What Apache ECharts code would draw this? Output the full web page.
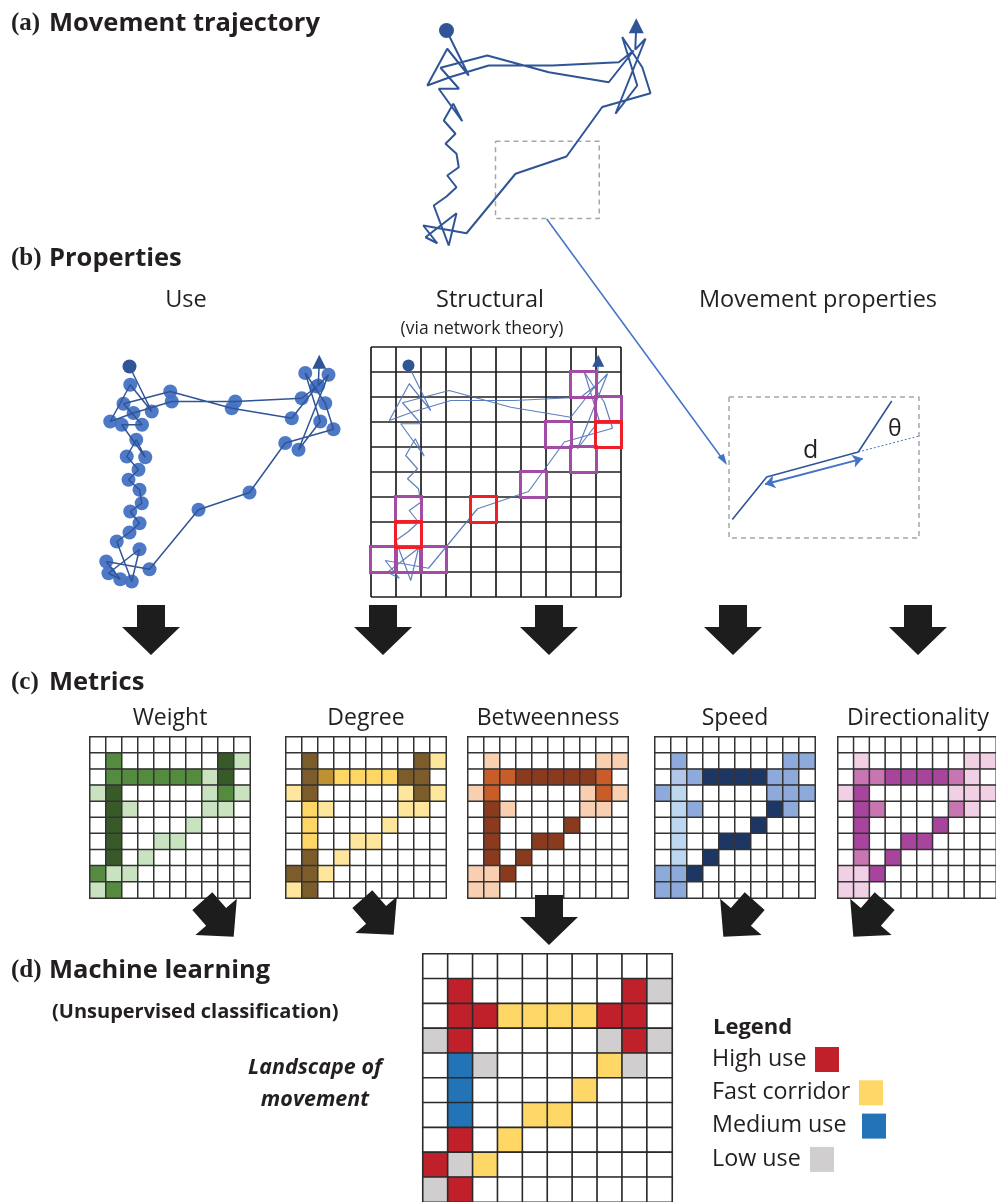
<!DOCTYPE html>
<html>
<head>
<meta charset="utf-8">
<script src="https://cdn.jsdelivr.net/npm/echarts@6/dist/echarts.min.js"></script>
<style>
  html, body { margin: 0; padding: 0; background: #fff; }
  #chart { width: 996px; height: 1202px; }
</style>
</head>
<body>
<div id="chart"></div>
<script>
// ---------- data ----------
// Animal track in landscape cell units (x to the right, y downwards), 10 x 10 cells
const track = [
  [1.50, 0.74], [2.39, 2.54], [1.53, 1.47], [0.73, 2.94], [1.66, 2.60],
  [3.19, 2.14], [5.73, 2.14], [8.39, 2.01], [8.99, 1.54], [7.99, 2.81],
  [5.59, 2.41], [3.13, 1.74], [1.26, 2.23], [2.00, 3.07], [1.19, 3.07],
  [2.13, 4.37], [1.77, 3.67], [1.39, 4.34], [1.86, 4.87], [1.46, 5.27],
  [1.90, 5.67], [1.99, 6.21], [1.53, 6.54], [1.90, 7.01], [1.50, 7.38],
  [0.99, 7.74], [1.59, 9.34], [1.90, 8.05], [0.66, 9.01], [1.13, 9.25],
  [0.57, 8.54], [2.30, 8.85], [4.26, 6.47], [6.30, 5.78], [7.73, 3.80],
  [9.66, 3.25], [9.33, 2.21], [8.53, 1.00], [9.13, 2.94], [8.26, 4.07],
  [9.46, 1.07], [9.05, 1.50], [9.09, 0.55]
];
// Section of the track that is enlarged in the movement-properties panel
const zoomBox = [[3.46, 5.17], [7.61, 5.17], [7.61, 8.26], [3.46, 8.26], [3.46, 5.17]];

// Structural panel: highlighted network nodes [col, row]
const nodesPurple = [[8, 1], [9, 2], [7, 3], [8, 4], [6, 5], [1, 6], [0, 8], [1, 8], [2, 8]];
const nodesRed = [[9, 3], [4, 6], [1, 7]];

// Movement-properties sketch (local units: 190 x 141)
const stepPath = [[3.3, 122.6], [37.7, 80], [129.3, 55], [162.7, 4]];
const headingExt = [[129.3, 55], [192.7, 38.3]];
const stepArrow = [[36, 87.3], [133.7, 61.6]];
const frameBox = [[0, 0], [190, 0], [190, 141], [0, 141], [0, 0]];

// Metric rasters: one digit per cell = class index into the palette
const metricNames = ['Weight', 'Degree', 'Betweenness', 'Speed', 'Directionality'];
const weightRows = ['0000000000','0200000031','0222222130','1300000121','0310000110',
                    '0300001000','0300110000','0301000000','2110000000','1200000000'];
const degreeRows = ['0000000000','0400000041','0432222440','1400000141','0210000110',
                    '0200001000','0200110000','0401000000','4410000000','1400000000'];
const betweenRows = ['0000000000','0100000011','0223333320','1200000121','0310000110',
                     '0300003000','0300330000','0303000000','1130000000','1100000000'];
const speedRows = ['0000000000','0300000033','0234444330','3100000333','0130000430',
                   '0100004000','0100440000','0104000000','3340000000','3300000000'];
const directRows = ['0000000000','0100000011','0223333210','1300000111','0320000210',
                    '0300003000','0300330000','0203000000','1130000000','1100000000'];
const weightColors = ['#ffffff', '#c9e3c0', '#548b3e', '#375a28'];
const degreeColors = ['#ffffff', '#fee79c', '#fed665', '#bf9130', '#7d5c2b'];
const betweenColors = ['#ffffff', '#f9cfb2', '#c85d29', '#8a3b1d'];
const speedColors = ['#ffffff', '#bdd7ee', '#b4c6e7', '#8eaadb', '#1c3764'];
const directColors = ['#ffffff', '#f1d0e5', '#c776b2', '#a7449b'];

// Unsupervised classification result
const classRows = ['0000000000','0100000014','0112222110','4100000414','0340000240',
                   '0300002000','0300220000','0102000000','1420000000','4100000000'];
const classColors = ['#ffffff', '#c0202a', '#fed766', '#2274b7', '#d0cece'];
const classNames = ['High use', 'Fast corridor', 'Medium use', 'Low use'];

// ---------- layout ----------
const SANS = "'Open Sans', 'Noto Sans', sans-serif";
const SERIF = "'Liberation Serif', 'DejaVu Serif', serif";
const INK = '#231f20';
const TRACK = '#2f5597';
const DOT = '#4472c4';

const gridTrajA = { left: 409, top: 12, width: 250, height: 250 };
const gridUse = { left: 92, top: 348, width: 250, height: 250 };
const gridStruct = { left: 371, top: 347, width: 250, height: 250 };
const gridProps = { left: 729, top: 397, width: 190, height: 141 };
const metricLefts = [90, 286, 468, 655, 838];
const metricTop = 737, metricSize = 160;
const gridClass = { left: 423, top: 954, width: 249, height: 249 };

const cellIdx = Array.from({ length: 10 }, (_, i) => String(i));

function rasterData(rows, palette) {
  const out = [];
  rows.forEach((row, r) => {
    for (let c = 0; c < row.length; c++) {
      const k = +row[c];
      out.push({ value: [c, r, k], itemStyle: { color: palette[k] } });
    }
  });
  return out;
}
const centers = cells => cells.map(([c, r]) => [c + 0.5, r + 0.5]);

const grids = [gridTrajA, gridUse, gridStruct, gridProps]
  .concat(metricLefts.map(l => ({ left: l, top: metricTop, width: metricSize, height: metricSize + 1 })))
  .concat([gridClass]);

const xAxes = [], yAxes = [];
for (let g = 0; g < grids.length; g++) {
  if (g < 4) {
    const isStruct = g === 2;
    const max = g === 3 ? 190 : 10;
    const ymax = g === 3 ? 141 : 10;
    const base = {
      type: 'value', gridIndex: g, min: 0, show: isStruct,
      axisLine: { show: false }, axisTick: { show: false }, axisLabel: { show: false },
      splitLine: { show: isStruct, lineStyle: { color: '#1e1e1e', width: 1.7 } }
    };
    xAxes.push(Object.assign({}, base, { max: max, interval: isStruct ? 1 : undefined }));
    yAxes.push(Object.assign({}, base, { max: ymax, inverse: true, interval: isStruct ? 1 : undefined }));
  } else {
    const base = { type: 'category', gridIndex: g, data: cellIdx, show: false };
    xAxes.push(Object.assign({}, base));
    yAxes.push(Object.assign({}, base, { inverse: true }));
  }
}

const series = [];
const onGrid = g => ({ xAxisIndex: g, yAxisIndex: g });
const ends = size => [
  { value: track[0], symbol: 'circle', symbolSize: size },
  { value: track[track.length - 1], symbol: 'triangle', symbolSize: size }
];

// (a) trajectory
series.push(Object.assign({ type: 'line', data: track, showSymbol: false, clip: false,
  lineStyle: { color: TRACK, width: 2 }, z: 3 }, onGrid(0)));
series.push(Object.assign({ type: 'scatter', data: ends(15), itemStyle: { color: TRACK, opacity: 1 }, z: 4 }, onGrid(0)));
series.push(Object.assign({ type: 'line', data: zoomBox, showSymbol: false,
  lineStyle: { color: '#a6a6a6', width: 1.5, type: [5, 4] }, z: 2 }, onGrid(0)));

// (b) use: fixes along the track
series.push(Object.assign({ type: 'scatter', data: track.slice(1, -1), symbolSize: 14,
  itemStyle: { color: DOT, opacity: 0.95 }, z: 2 }, onGrid(1)));
series.push(Object.assign({ type: 'line', data: track, showSymbol: false, clip: false,
  lineStyle: { color: TRACK, width: 1.5 }, z: 3 }, onGrid(1)));
series.push(Object.assign({ type: 'scatter', data: ends(14), itemStyle: { color: TRACK, opacity: 1 }, z: 4 }, onGrid(1)));

// (b) structural: network over the raster
series.push(Object.assign({ type: 'line', data: track, showSymbol: false, clip: false,
  lineStyle: { color: '#4d72b5', width: 1.2, opacity: 0.9 }, z: 3 }, onGrid(2)));
series.push(Object.assign({ type: 'scatter', data: ends(12), itemStyle: { color: TRACK, opacity: 1 }, z: 4 }, onGrid(2)));
series.push(Object.assign({ type: 'scatter', data: centers(nodesPurple), symbol: 'rect', symbolSize: 26,
  itemStyle: { color: 'rgba(0,0,0,0)', borderColor: '#a24ca6', borderWidth: 3, opacity: 1 }, z: 5 }, onGrid(2)));
series.push(Object.assign({ type: 'scatter', data: centers(nodesRed), symbol: 'rect', symbolSize: 26,
  itemStyle: { color: 'rgba(0,0,0,0)', borderColor: '#ee1f27', borderWidth: 3, opacity: 1 }, z: 6 }, onGrid(2)));

// (b) movement properties: step length and turning angle
series.push(Object.assign({ type: 'line', data: frameBox, showSymbol: false, clip: false,
  lineStyle: { color: '#a6a6a6', width: 1.5, type: [5, 4] }, z: 2 }, onGrid(3)));
series.push(Object.assign({ type: 'line', data: stepPath, showSymbol: false, clip: false,
  lineStyle: { color: TRACK, width: 1.6 }, z: 3 }, onGrid(3)));
series.push(Object.assign({ type: 'line', data: headingExt, showSymbol: false, clip: false,
  lineStyle: { color: DOT, width: 1, type: [2, 2] }, z: 3 }, onGrid(3)));
series.push(Object.assign({ type: 'lines', coordinateSystem: 'cartesian2d',
  data: [{ coords: stepArrow }], symbol: ['arrow', 'arrow'], symbolSize: 10,
  lineStyle: { color: DOT, width: 2, opacity: 1 }, z: 4 }, onGrid(3)));

// (c) metric rasters
[[weightRows, weightColors], [degreeRows, degreeColors], [betweenRows, betweenColors],
 [speedRows, speedColors], [directRows, directColors]].forEach(([rows, pal], i) => {
  series.push(Object.assign({ type: 'heatmap', data: rasterData(rows, pal),
    itemStyle: { borderColor: '#333', borderWidth: 1.5 }, emphasis: { disabled: true } }, onGrid(4 + i)));
});
// (d) classification raster
series.push(Object.assign({ type: 'heatmap', data: rasterData(classRows, classColors),
  itemStyle: { borderColor: '#2a2a2a', borderWidth: 1.6 }, emphasis: { disabled: true } }, onGrid(9)));

// ---------- annotation graphics ----------
const graphic = [];
function txt(text, x, y, size, opt) {
  opt = opt || {};
  graphic.push({ type: 'text', x: x, y: y, silent: true, z: 10,
    style: { text: text, fill: opt.fill || INK, fontSize: size, fontFamily: opt.family || SANS,
      fontWeight: opt.weight || 'normal', fontStyle: opt.style || 'normal',
      align: opt.align || 'left', verticalAlign: 'middle' } });
}
const heads = [['(a)', 'Movement trajectory', 24], ['(b)', 'Properties', 259],
               ['(c)', 'Metrics', 683], ['(d)', 'Machine learning', 971]];
heads.forEach(([tag, name, y]) => {
  txt(tag, 11, y, 25, { family: SERIF, weight: 'bold' });
  txt(name, 49, y, 25.5, { weight: 'bold' });
});
txt('Use', 186, 300, 23.5, { align: 'center' });
txt('Structural', 490, 300, 23.5, { align: 'center' });
txt('(via network theory)', 482, 329, 17.5, { align: 'center' });
txt('Movement properties', 818, 300, 23.5, { align: 'center' });
metricNames.forEach((n, i) => txt(n, metricLefts[i] + 80, 718, 23, { align: 'center' }));
txt('(Unsupervised classification)', 52, 1012, 20, { weight: 'bold' });
txt('Landscape of', 315, 1068, 21.5, { weight: 'bold', style: 'italic', align: 'center' });
txt('movement', 315, 1100, 21.5, { weight: 'bold', style: 'italic', align: 'center' });
txt('d', 803, 451, 25);
txt('θ', 888, 429, 23);

// legend
txt('Legend', 713, 1028, 22, { weight: 'bold' });
const swatchX = [815, 859, 862, 810];
classNames.forEach((n, i) => {
  const y = 1059 + i * 33.3;
  txt(n, 712, y, 23.3);
  graphic.push({ type: 'rect', silent: true, z: 10,
    shape: { x: swatchX[i], y: y - 12, width: 24, height: 25 },
    style: { fill: classColors[i + 1] } });
});

// block arrows
function blockArrow(cx, cy, rot, scale) {
  const s = scale || 1;
  const pts = [[-14, -25], [14, -25], [14, -3], [29, -3], [0, 25], [-29, -3], [-14, -3]]
    .map(([x, y]) => [x * s, y * s]);
  graphic.push({ type: 'polygon', x: cx, y: cy, rotation: rot || 0, silent: true, z: 10,
    shape: { points: pts }, style: { fill: '#1d1d1d' } });
}
[151, 383, 549, 733, 918].forEach(x => blockArrow(x, 630, 0, 1));
blockArrow(218, 919, 0.72, 0.95);
blockArrow(378, 917, 0.72, 0.95);
blockArrow(549, 920, 0, 1);
blockArrow(739, 919, -0.72, 0.95);
blockArrow(869, 919, -0.72, 0.95);

// connector from the boxed track section to the enlarged sketch
graphic.push({ type: 'line', silent: true, z: 10,
  shape: { x1: 546.7, y1: 219, x2: 724, y2: 461 }, style: { stroke: DOT, lineWidth: 1.5 } });
graphic.push({ type: 'polygon', silent: true, z: 10, x: 727, y: 465, rotation: 0,
  shape: { points: [[0, 0], [-9.5, -7.7], [-3.2, -11.2]] }, style: { fill: DOT } });

const chart = echarts.init(document.getElementById('chart'), null, { renderer: 'canvas' });
chart.setOption({
  animation: false,
  backgroundColor: '#ffffff',
  grid: grids,
  xAxis: xAxes,
  yAxis: yAxes,
  series: series,
  graphic: graphic
});
</script>
</body>
</html>
